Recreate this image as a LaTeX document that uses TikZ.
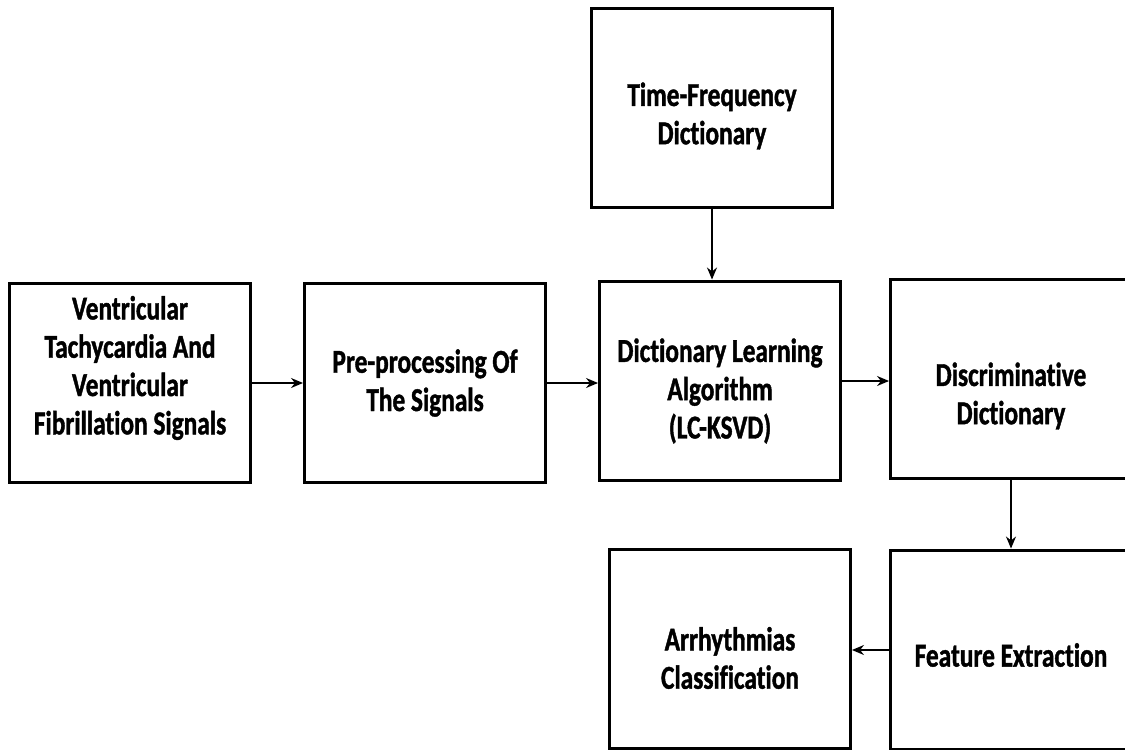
\documentclass[tikz,border=0pt]{standalone}
\usepackage{fontspec}
\setmainfont{Carlito}[Ligatures=NoCommon,FakeStretch=0.76,BoldFeatures={FakeBold=1.2}]
\usetikzlibrary{arrows.meta}
\tikzset{
  block/.style={draw=black,line width=1.7pt,minimum width=4.82cm,minimum height=4cm,inner sep=0pt},
  blocktext/.style={align=center,inner sep=0pt,font=\bfseries\fontsize{19}{21.8}\selectfont},
  flow/.style={-{Stealth[length=2.4mm,width=2mm]},line width=0.8pt}
}

\begin{document}
\begin{tikzpicture}[x=0.02cm,y=-0.02cm]
        \useasboundingbox (0,0) rectangle (1125,750);
        \clip (0,0) rectangle (1125,750);
        \fill[white] (0,0) rectangle (1125,750);
        % top row
        \node[block,label={[blocktext,yshift=0.3cm]center:{Ventricular\\Tachycardia And\\Ventricular\\Fibrillation Signals}}]
          (signals) at (130,383) {};
        \node[block,label={[blocktext]center:{Pre-processing Of\\The Signals}}]
          (preproc) at (425,383) {};
        \node[block,label={[blocktext,yshift=-0.2cm]center:{Dictionary Learning\\Algorithm\\(LC-KSVD)}}]
          (learning) at (720,381) {};
        \node[block,label={[blocktext,yshift=-0.34cm]center:{Discriminative\\Dictionary}}]
          (discrim) at (1011,379) {};
        \node[block,label={[blocktext,yshift=-0.16cm]center:{Time-Frequency\\Dictionary}}]
          (tfdict) at (712,108) {};
        % bottom row
        \node[block,label={[blocktext,yshift=-0.1cm]center:{Feature Extraction}}]
          (feature) at (1011,650) {};
        \node[block,label={[blocktext,yshift=-0.18cm]center:{Arrhythmias\\Classification}}]
          (classif) at (730,649) {};
        % connectors
        \draw[flow] (signals.east) -- (signals.east -| preproc.west);
        \draw[flow] (preproc.east) -- (preproc.east -| learning.west);
        \draw[flow] (learning.east) -- (learning.east -| discrim.west);
        \draw[flow] (tfdict.south) -- (tfdict.south |- learning.north);
        \draw[flow] (discrim.south) -- (feature.north);
        \draw[flow] (feature.west) -- (feature.west -| classif.east);
      \end{tikzpicture}
\end{document}
